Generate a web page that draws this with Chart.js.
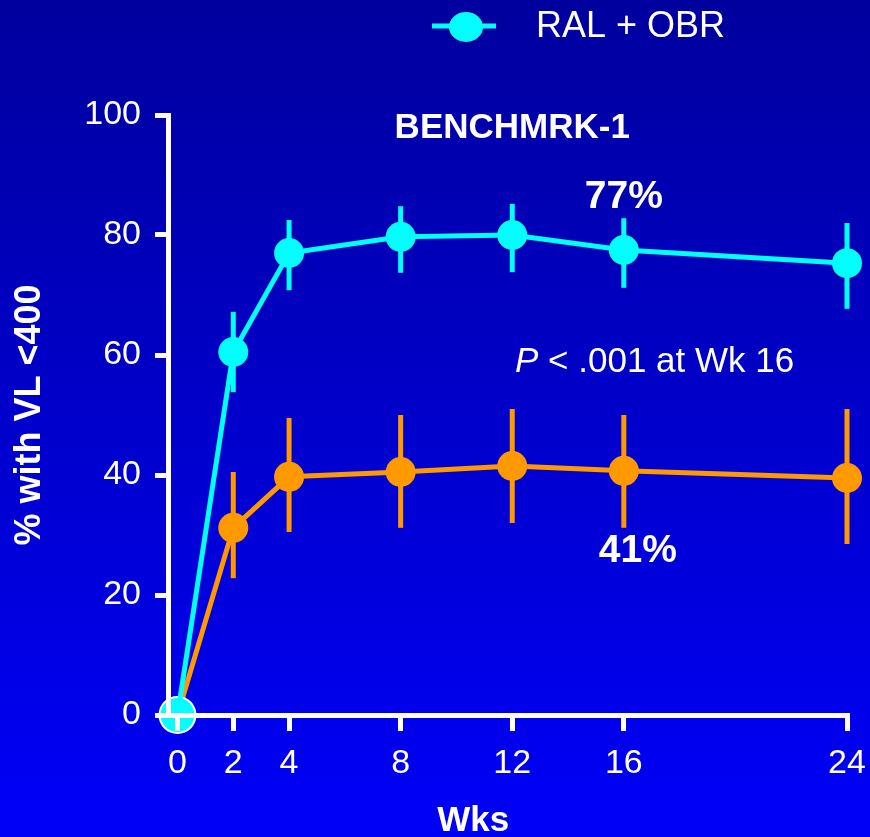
<!DOCTYPE html>
<html>
<head>
<meta charset="utf-8">
<script src="https://cdn.jsdelivr.net/npm/chart.js@4"></script>
<style>
  html, body { margin: 0; padding: 0; background: #0000c8; }
  #wrap { width: 870px; height: 837px; }
</style>
</head>
<body>
<div id="wrap"><canvas id="line-chart"></canvas></div>
<script>
// values (% with VL <400 by week)
const weeks = [0, 2, 4, 8, 12, 16, 24];
const weekTicks = [0, 2, 4, 8, 12, 16, 24];

const ralObr = [0, 60.5, 77.0, 79.7, 80.0, 77.5, 75.3];
const ralObrLow = [0, 53.8, 70.8, 73.7, 73.8, 71.2, 67.7];
const ralObrHigh = [0, 67.2, 82.5, 84.8, 85.2, 82.8, 82.0];

const placebo = [0, 31.2, 39.7, 40.5, 41.5, 40.7, 39.5];
const placeboLow = [0, 22.8, 30.5, 31.2, 32.0, 31.2, 28.5];
const placeboHigh = [0, 40.5, 49.5, 50.0, 51.0, 50.0, 51.0];

const CYAN = '#00ffff';
const ORANGE = '#ff9900';
const FONT = "'Liberation Sans', Arial, Helvetica, sans-serif";

Chart.defaults.font.family = FONT;

function points(ys) {
    return weeks.map((w, i) => ({ x: w, y: ys[i] }));
}

// blue gradient behind everything
const background = {
    id: 'background',
    beforeDraw(chart) {
        const ctx = chart.ctx;
        const g = ctx.createLinearGradient(0, 0, 0, chart.height);
        g.addColorStop(0, '#00009e');
        g.addColorStop(1, '#0000f8');
        ctx.save();
        ctx.fillStyle = g;
        ctx.fillRect(0, 0, chart.width, chart.height);
        ctx.restore();
    }
};

// vertical error bars, under the points
const errorBars = {
    id: 'errorBars',
    beforeDatasetsDraw(chart) {
        const ctx = chart.ctx;
        const xs = chart.scales.x, ys = chart.scales.y;
        chart.data.datasets.forEach(ds => {
            ctx.save();
            ctx.strokeStyle = ds.borderColor;
            ctx.lineWidth = 5;
            weeks.forEach((w, i) => {
                if (ds.low[i] === ds.high[i]) return;
                const px = xs.getPixelForValue(w);
                ctx.beginPath();
                ctx.moveTo(px, ys.getPixelForValue(ds.low[i]));
                ctx.lineTo(px, ys.getPixelForValue(ds.high[i]));
                ctx.stroke();
            });
            ctx.restore();
        });
    }
};

// texts inside the plot, the x title and the legend
const notes = {
    id: 'notes',
    afterDraw(chart) {
        const ctx = chart.ctx;
        const xs = chart.scales.x, ys = chart.scales.y;
        ctx.save();
        ctx.fillStyle = '#ffffff';
        ctx.textBaseline = 'middle';
        ctx.textAlign = 'center';

        ctx.font = 'bold 35px ' + FONT;
        ctx.fillText('BENCHMRK-1', xs.getPixelForValue(12), ys.getPixelForValue(97.7));

        // x axis title sits left of the plot centre in the original
        ctx.fillText('Wks', xs.getPixelForValue(10.6), 821);

        ctx.font = 'bold 39px ' + FONT;
        ctx.fillText('77%', xs.getPixelForValue(16), ys.getPixelForValue(86.3));
        ctx.fillText('41%', xs.getPixelForValue(16.5), ys.getPixelForValue(27.3));

        ctx.textAlign = 'left';
        let px = xs.getPixelForValue(12.1);
        const py = ys.getPixelForValue(58.8);
        ctx.font = 'italic 35px ' + FONT;
        ctx.fillText('P', px, py);
        px += ctx.measureText('P').width;
        ctx.font = '35px ' + FONT;
        ctx.fillText(' < .001 at Wk 16', px, py);

        // legend (only the RAL arm is shown)
        ctx.strokeStyle = CYAN;
        ctx.lineWidth = 5;
        ctx.beginPath();
        ctx.moveTo(432, 26);
        ctx.lineTo(496, 26);
        ctx.stroke();
        ctx.fillStyle = CYAN;
        ctx.beginPath();
        ctx.ellipse(466, 27, 17, 15, 0, 0, Math.PI * 2);
        ctx.fill();
        ctx.fillStyle = '#ffffff';
        ctx.font = '36px ' + FONT;
        ctx.fillText('RAL + OBR', 536, 27);
        ctx.restore();
    }
};

new Chart(document.getElementById('line-chart'), {
    type: 'line',
    data: {
        datasets: [{
            label: 'RAL + OBR',
            data: points(ralObr),
            low: ralObrLow,
            high: ralObrHigh,
            borderColor: CYAN,
            backgroundColor: CYAN,
            borderWidth: 5,
            pointRadius: c => c.dataIndex === 0 ? 17 : 15,
            pointBorderWidth: 0,
            tension: 0,
            clip: false
        }, {
            label: 'Placebo + OBR',
            data: points(placebo),
            low: placeboLow,
            high: placeboHigh,
            borderColor: ORANGE,
            backgroundColor: ORANGE,
            pointBackgroundColor: c => c.dataIndex === 0 ? '#ffffff' : ORANGE,
            borderWidth: 5,
            pointRadius: c => c.dataIndex === 0 ? 19 : 15,
            pointBorderWidth: 0,
            tension: 0,
            clip: false
        }]
    },
    options: {
        responsive: true,
        maintainAspectRatio: false,
        animation: false,
        events: [],
        layout: { padding: { top: 115, right: 23, left: 0, bottom: 0 } },
        plugins: {
            legend: { display: false },
            tooltip: { enabled: false }
        },
        scales: {
            x: {
                type: 'linear',
                min: -0.34,
                max: 24,
                afterBuildTicks: s => { s.ticks = weekTicks.map(v => ({ value: v })); },
                afterFit: s => { s.height = 122; s.paddingLeft = 0; s.paddingRight = 0; },
                ticks: { color: '#ffffff', font: { size: 34 }, padding: 12, autoSkip: false, maxRotation: 0 },
                grid: { drawOnChartArea: false, tickLength: 16, color: '#ffffff', lineWidth: 5, z: 1 },
                border: { color: '#ffffff', width: 5, z: 1 },
                title: { display: false, text: 'Wks' }
            },
            y: {
                min: 0,
                max: 100,
                afterFit: s => { s.width = 168; s.paddingTop = 0; s.paddingBottom = 0; },
                ticks: { stepSize: 20, color: '#ffffff', font: { size: 34 }, padding: 14 },
                grid: { drawOnChartArea: false, tickLength: 13, color: '#ffffff', lineWidth: 5, z: 1 },
                border: { color: '#ffffff', width: 5, z: 1 },
                title: {
                    display: true, text: '% with VL <400', color: '#ffffff',
                    font: { size: 36, weight: 'bold', lineHeight: 1 }, padding: { top: 12, bottom: 0 }
                }
            }
        }
    },
    plugins: [background, errorBars, notes]
});
</script>
</body>
</html>
